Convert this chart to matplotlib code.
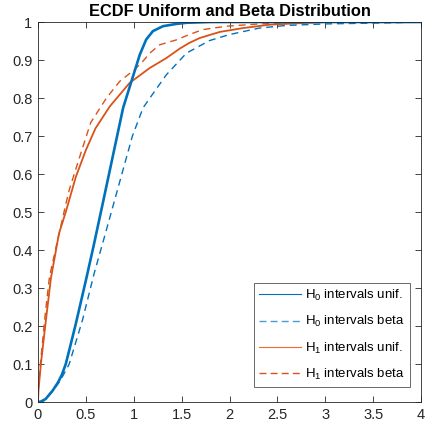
import matplotlib
matplotlib.use("Agg")
import matplotlib.pyplot as plt
from matplotlib.lines import Line2D

# H0 intervals, uniform
h0u_x = [0, 0.03, 0.08, 0.153, 0.21, 0.25, 0.29, 0.34, 0.396, 0.5, 0.58, 0.674, 0.795, 0.889, 0.976, 1.063, 1.13, 1.20, 1.305, 1.445, 1.55, 1.8, 4.0]
h0u_y = [0, 0.001, 0.008, 0.03, 0.052, 0.072, 0.10, 0.15, 0.207, 0.32, 0.41, 0.52, 0.663, 0.774, 0.844, 0.914, 0.954, 0.976, 0.989, 0.995, 0.998, 1.0, 1.0]

# H0 intervals, beta
h0b_x = [0, 0.06, 0.135, 0.23, 0.326, 0.465, 0.587, 0.70, 0.81, 0.986, 1.097, 1.16, 1.34, 1.55, 1.79, 2.0, 2.31, 2.59, 3.0, 3.7, 4.0]
h0b_y = [0, 0.003, 0.023, 0.055, 0.10, 0.216, 0.339, 0.44, 0.54, 0.70, 0.774, 0.797, 0.861, 0.918, 0.951, 0.967, 0.984, 0.991, 0.995, 0.998, 1.0]

# H1 intervals, uniform
h1u_x = [0, 0.005, 0.03, 0.083, 0.135, 0.22, 0.29, 0.396, 0.5, 0.6, 0.75, 0.958, 1.167, 1.34, 1.48, 1.58, 1.69, 1.9, 2.14, 2.42, 2.66, 3.0, 4.0]
h1u_y = [0, 0.03, 0.10, 0.216, 0.326, 0.444, 0.50, 0.593, 0.663, 0.72, 0.778, 0.84, 0.879, 0.905, 0.93, 0.945, 0.958, 0.974, 0.984, 0.993, 0.996, 1.0, 1.0]

# H1 intervals, beta
h1b_x = [0, 0.004, 0.025, 0.075, 0.12, 0.205, 0.29, 0.326, 0.448, 0.55, 0.715, 0.854, 1.01, 1.1, 1.167, 1.27, 1.445, 1.58, 1.72, 1.97, 2.31, 2.6, 3.0, 4.0]
h1b_y = [0, 0.04, 0.10, 0.23, 0.33, 0.426, 0.52, 0.558, 0.655, 0.735, 0.80, 0.844, 0.875, 0.898, 0.918, 0.94, 0.953, 0.967, 0.98, 0.989, 0.995, 0.997, 1.0, 1.0]

labels = [r"H$_0$ intervals unif.", r"H$_0$ intervals beta",
          r"H$_1$ intervals unif.", r"H$_1$ intervals beta"]

xticks = [0, 0.5, 1, 1.5, 2, 2.5, 3, 3.5, 4]
yticks = [0, 0.1, 0.2, 0.3, 0.4, 0.5, 0.6, 0.7, 0.8, 0.9, 1]

blue = "#0072BD"
blue_l = "#4A9BD6"
orange = "#D95319"
orange_l = "#EE6A35"

plt.rcParams['font.family'] = ['Liberation Sans', 'DejaVu Sans']
plt.rcParams['mathtext.fontset'] = 'custom'
plt.rcParams['mathtext.rm'] = 'Liberation Sans'
plt.rcParams['mathtext.it'] = 'Liberation Sans'
fig = plt.figure(figsize=(4.25, 4.30), dpi=100)
ax = fig.add_axes([0.0894, 0.0651, 0.9012, 0.8837])

dash = (5, 3.5)
ax.plot(h1b_x, h1b_y, color=orange, lw=1.0, dashes=dash)
ax.plot(h1u_x, h1u_y, color=orange, lw=1.3)
ax.plot(h0b_x, h0b_y, color=blue, lw=1.0, dashes=dash)
ax.plot(h0u_x, h0u_y, color=blue, lw=1.9)

ax.set_xlim(0, 4)
ax.set_ylim(0, 1)
ax.set_xticks(xticks)
ax.set_xticklabels([f"{t:g}" for t in xticks])
ax.set_yticks(yticks)
ax.set_yticklabels([f"{t:g}" for t in yticks])
ax.tick_params(direction='in', top=True, right=True, length=4, width=0.6,
               labelsize=10.5, colors='#262626', pad=4)
for s in ax.spines.values():
    s.set_linewidth(0.6)
    s.set_color('#262626')

ax.set_title("ECDF Uniform and Beta Distribution", fontsize=11.8, fontweight='bold', pad=4)

handles = [Line2D([], [], color=blue, lw=0.8),
           Line2D([], [], color=blue_l, lw=1.0, dashes=(5, 3)),
           Line2D([], [], color=orange_l, lw=0.8),
           Line2D([], [], color=orange, lw=1.0, dashes=(5, 3))]
leg = ax.legend(handles, labels, loc='lower right', fontsize=9.5, frameon=True,
                fancybox=False, edgecolor='#262626', handlelength=3.2,
                handletextpad=0.3, labelspacing=0.85, borderpad=0.4,
                borderaxespad=0, bbox_to_anchor=(0.971, 0.039))
leg.get_frame().set_linewidth(0.6)

fig.savefig("out.png", dpi=100)
